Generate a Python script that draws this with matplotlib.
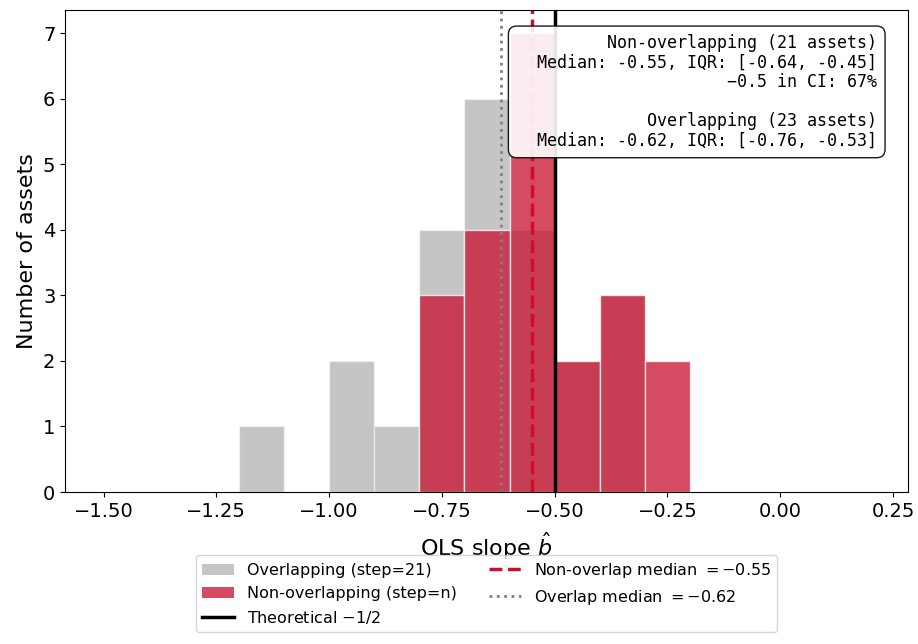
import numpy as np
import matplotlib.pyplot as plt
from matplotlib.patches import Patch
from matplotlib.lines import Line2D

# histogram bins (left edges) and counts
bin_edges = np.round(np.arange(-1.5, 0.31, 0.1), 2)
bin_left = [-1.2, -1.1, -1.0, -0.9, -0.8, -0.7, -0.6, -0.5, -0.4, -0.3]
overlap_counts = [1, 0, 2, 1, 4, 6, 4, 2, 3, 0]
nonoverlap_counts = [0, 0, 0, 0, 3, 4, 7, 2, 3, 2]

theory = -0.5
nonoverlap_median = -0.55
overlap_median = -0.62

red = '#C8102E'

fig, ax = plt.subplots(figsize=(9.18, 6.44), dpi=100)
fig.subplots_adjust(left=0.071, right=0.989, top=0.984, bottom=0.236)

centers = np.array(bin_left) + 0.05
ax.hist(centers, bins=bin_edges, weights=overlap_counts, color='grey',
        alpha=0.45, edgecolor='white', linewidth=1)
ax.hist(centers, bins=bin_edges, weights=nonoverlap_counts, color=red,
        alpha=0.75, edgecolor='white', linewidth=1)

ax.axvline(theory, color='black', lw=2.5)
ax.axvline(nonoverlap_median, color=red, lw=2.5, ls='--')
ax.axvline(overlap_median, color='grey', lw=2, ls=':')

ax.set_xlim(-1.585, 0.283)
ax.set_ylim(0, 7.35)
ax.tick_params(labelsize=14)
ax.set_xlabel(r'OLS slope $\hat{b}$', fontsize=16, labelpad=7)
ax.set_ylabel('Number of assets', fontsize=16)

blank = ' ' * 36
txt = ('Non-overlapping (21 assets)\n'
       'Median: -0.55, IQR: [-0.64, -0.45]\n'
       '\u22120.5 in CI: 67%\n' + blank + '\n'
       'Overlapping (23 assets)\n'
       'Median: -0.62, IQR: [-0.76, -0.53]')
ax.text(0.963, 0.95, txt, transform=ax.transAxes, ha='right', va='top',
        family='DejaVu Sans Mono', fontsize=12, multialignment='right',
        linespacing=1.1,
        bbox=dict(boxstyle='round,pad=0.5', facecolor='white', alpha=0.9,
                  edgecolor='black'), zorder=5)

handles = [
    Patch(facecolor='grey', alpha=0.45, label='Overlapping (step=21)'),
    Patch(facecolor=red, alpha=0.75, label='Non-overlapping (step=n)'),
    Line2D([], [], color='black', lw=2.5, label=r'Theoretical $-1/2$'),
    Line2D([], [], color=red, lw=2.5, ls='--',
           label=r'Non-overlap median $= -0.55$'),
    Line2D([], [], color='grey', lw=2, ls=':',
           label=r'Overlap median $= -0.62$'),
]
ax.legend(handles=handles, loc='upper center', bbox_to_anchor=(0.5, -0.13),
          ncol=2, fontsize=11.5, frameon=True, borderaxespad=0,
          labelspacing=0.5, handletextpad=0.8)

plt.savefig('out.png', dpi=100)
